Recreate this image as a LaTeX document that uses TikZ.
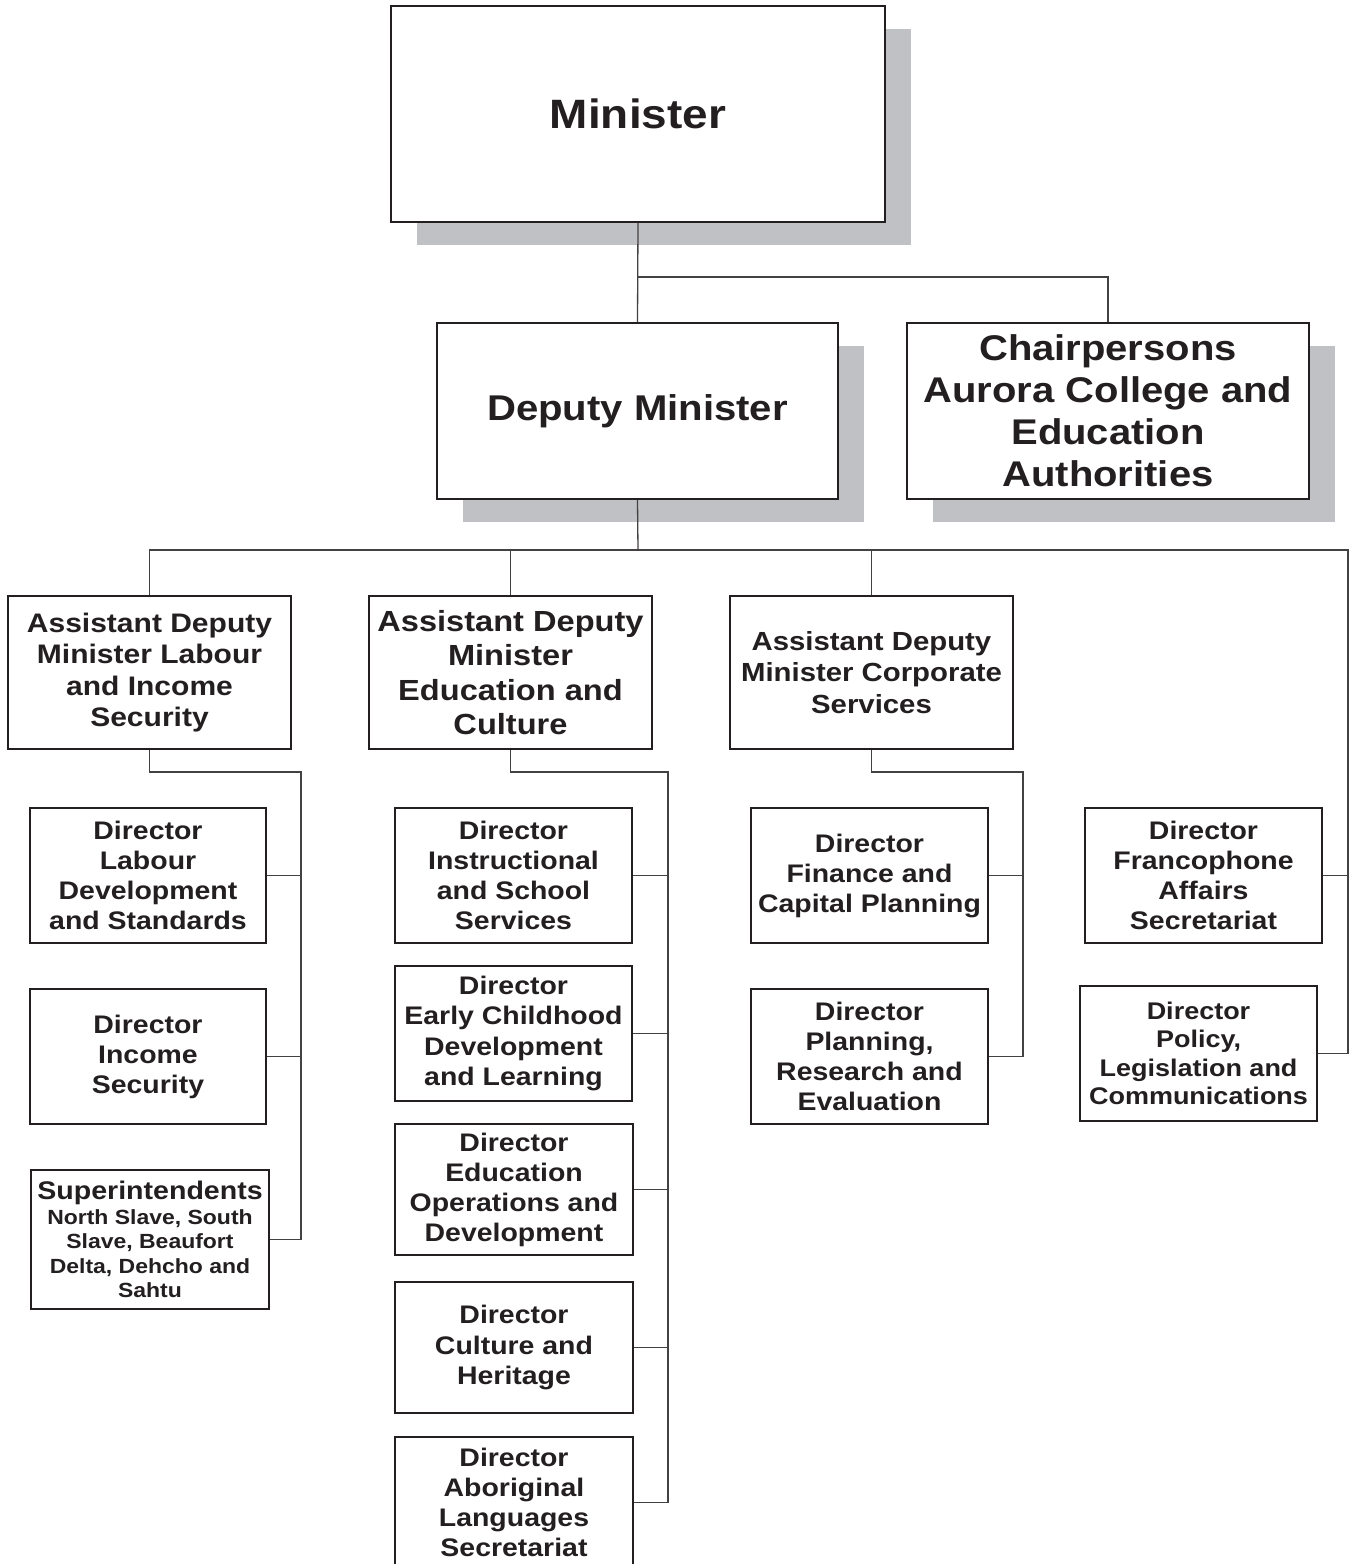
\documentclass[tikz,border=0pt]{standalone}
\usepackage{fontspec}
\newfontfamily\orgfont{Liberation Sans}[FakeStretch=1.12]
\usetikzlibrary{shadows}
\definecolor{shadowgray}{RGB}{192,193,196}
\definecolor{inkblack}{RGB}{35,31,32}
\newcommand\fsz[2]{\fontsize{#1}{#2}\selectfont}
\begin{document}
\begin{tikzpicture}[x=1pt,y=-1pt,
  box/.style={draw=inkblack, line width=2pt, fill=white, rectangle, inner sep=0pt,
    align=center, text=inkblack},
  bigbox/.style={box, drop shadow={shadow xshift=26pt, shadow yshift=-22.5pt, fill=shadowgray, opacity=1}},
  link/.style={draw=inkblack!85, line width=1.3pt}
]
\useasboundingbox (0,0) rectangle (1349,1564);

% top level
\node[bigbox, minimum width=494pt, minimum height=216pt, font={\orgfont\bfseries\fsz{41}{48}}] (min) at (638,114) {Minister};
\node[bigbox, minimum width=401pt, minimum height=176pt, font={\orgfont\bfseries\fsz{35.8}{42}}] (dm) at (637.5,411) {\raisebox{-2pt}{Deputy Minister}};
\node[bigbox, minimum width=402pt, minimum height=176pt, font={\orgfont\bfseries\fsz{35.7}{42}}] (chair) at (1108,411) {Chairpersons\\Aurora College and\\Education\\Authorities};

% assistant deputy ministers
\node[box, minimum width=283pt, minimum height=153pt, font={\orgfont\bfseries\fsz{26.8}{31.3}}] (adm1) at (149.5,672.5) {Assistant Deputy\\Minister Labour\\and Income\\Security};
\node[box, minimum width=283pt, minimum height=153pt, font={\orgfont\bfseries\fsz{29.1}{34.3}}] (adm2) at (510.5,672.5) {Assistant Deputy\\Minister\\Education and\\Culture};
\node[box, minimum width=283pt, minimum height=153pt, font={\orgfont\bfseries\fsz{26.2}{31.5}}] (adm3) at (871.5,672.5) {Assistant Deputy\\Minister Corporate\\Services};

% column 1
\node[box, minimum width=236pt, minimum height=135pt, font={\orgfont\bfseries\fsz{25.4}{30}}] (lab) at (148,875.5) {Director\\Labour\\Development\\and Standards};
\node[box, minimum width=236pt, minimum height=135pt, font={\orgfont\bfseries\fsz{25.4}{30}}] (inc) at (148,1056.5) {Director\\Income\\Security};
\node[box, minimum width=238pt, minimum height=139pt, font={\orgfont\bfseries\fsz{20.5}{24.4}}] (sup) at (150,1239.5) {{\fsz{25.5}{28}Superintendents}\\North Slave, South\\Slave, Beaufort\\Delta, Dehcho and\\Sahtu};

% column 2
\node[box, minimum width=237pt, minimum height=135pt, font={\orgfont\bfseries\fsz{25.4}{30}}] (ins) at (513.5,875.5) {Director\\Instructional\\and School\\Services};
\node[box, minimum width=237pt, minimum height=135pt, font={\orgfont\bfseries\fsz{25.4}{30.3}}] (early) at (513.5,1033.5) {Director\\Early Childhood\\Development\\and Learning};
\node[box, minimum width=238pt, minimum height=131pt, font={\orgfont\bfseries\fsz{25.4}{30}}] (ops) at (514,1189.5) {Director\\Education\\Operations and\\Development};
\node[box, minimum width=238pt, minimum height=131pt, font={\orgfont\bfseries\fsz{25.4}{30.5}}] (cul) at (514,1347.5) {Director\\Culture and\\Heritage};
\node[box, minimum width=238pt, minimum height=131pt, font={\orgfont\bfseries\fsz{25.4}{30}}] (abo) at (514,1502.5) {Director\\Aboriginal\\Languages\\Secretariat};

% column 3
\node[box, minimum width=237pt, minimum height=135pt, font={\orgfont\bfseries\fsz{25.4}{30}}] (fin) at (869.5,875.5) {Director\\Finance and\\Capital Planning};
\node[box, minimum width=237pt, minimum height=135pt, font={\orgfont\bfseries\fsz{25.4}{30}}] (plan) at (869.5,1056.5) {Director\\Planning,\\Research and\\Evaluation};

% column 4
\node[box, minimum width=237pt, minimum height=135pt, font={\orgfont\bfseries\fsz{25.4}{30}}] (fran) at (1203.5,875.5) {Director\\Francophone\\Affairs\\Secretariat};
\node[box, minimum width=237pt, minimum height=135pt, font={\orgfont\bfseries\fsz{24.1}{28.5}}] (pol) at (1198.5,1053.5) {Director\\Policy,\\Legislation and\\Communications};

% junctions
\coordinate (j1) at (638,277);
\coordinate (j2) at (638,550);
\coordinate (rc) at (1348,550);
\coordinate (c1) at (301,772);
\coordinate (c2) at (668,772);
\coordinate (c3) at (1023,772);

% connectors
\draw[link] (min.south) -- (dm.north);
\draw[link] (j1) -| (chair.north);
\draw[link] (dm.south) -- (j2);
\draw[link] (adm1.north) |- (rc) |- (pol.east);
\draw[link] (adm2.north) -- (adm2.north |- rc);
\draw[link] (adm3.north) -- (adm3.north |- rc);
\draw[link] (fran.east) -- (fran.east -| rc);

\draw[link] (adm1.south) |- (c1) |- (sup.east);
\draw[link] (lab.east) -- (lab.east -| c1);
\draw[link] (inc.east) -- (inc.east -| c1);

\draw[link] (adm2.south) |- (c2) |- (abo.east);
\draw[link] (ins.east) -- (ins.east -| c2);
\draw[link] (early.east) -- (early.east -| c2);
\draw[link] (ops.east) -- (ops.east -| c2);
\draw[link] (cul.east) -- (cul.east -| c2);

\draw[link] (adm3.south) |- (c3) |- (plan.east);
\draw[link] (fin.east) -- (fin.east -| c3);
\end{tikzpicture}
\end{document}
